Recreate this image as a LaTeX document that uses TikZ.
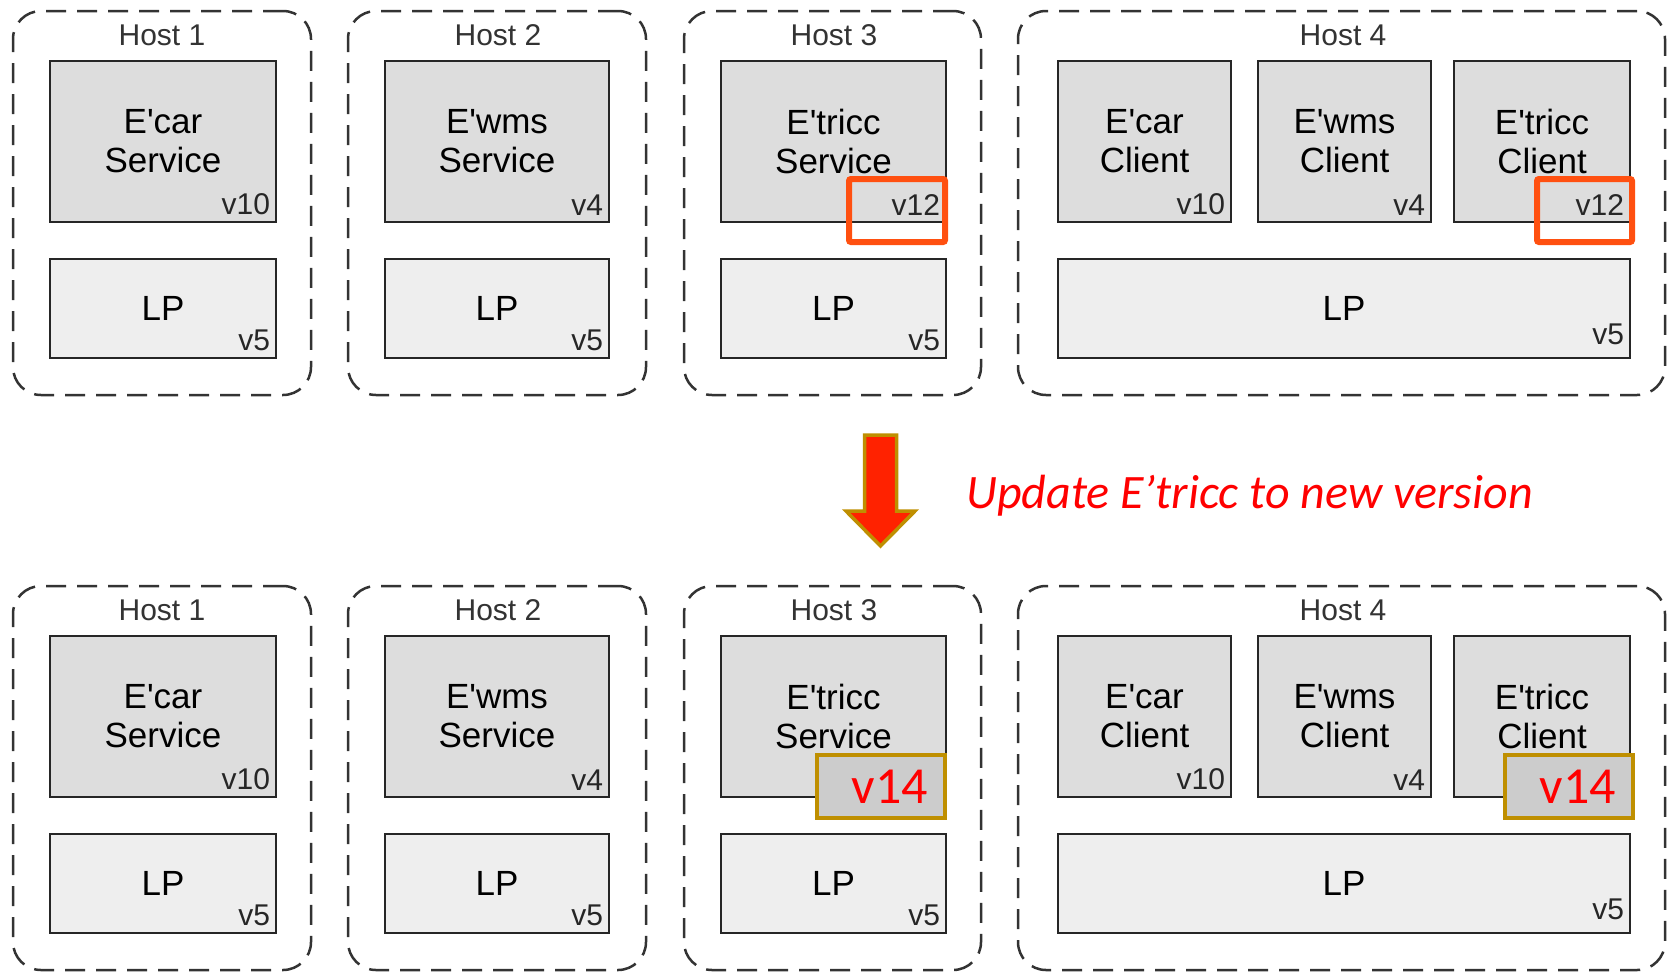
\documentclass[tikz,border=0pt]{standalone}
\usepackage{fontspec}
\setmainfont{Liberation Sans}
\newfontfamily\calibri{Carlito}
\usetikzlibrary{positioning}

\definecolor{hostline}{HTML}{333333}
\definecolor{svcgray}{HTML}{DDDDDD}
\definecolor{lpgray}{HTML}{EEEEEE}
\definecolor{newgray}{HTML}{CCCCCC}
\definecolor{hilite}{HTML}{FF5010}
\definecolor{goldline}{HTML}{BF8F00}
\definecolor{arrowred}{HTML}{FF2200}

\newcommand{\ap}{\textquotesingle}

\begin{document}
\begin{tikzpicture}[x=1pt, y=-1pt,
    hostbox/.style={draw=hostline, line width=2.5pt, dash pattern=on 20pt off 11pt, rounded corners=28pt, minimum height=384pt},
    hosttitle/.style={text=hostline, font=\fontsize{30}{34}\selectfont, inner sep=0pt},
    svcbox/.style={draw=black!85, line width=2.5pt, fill=svcgray, minimum height=161pt, align=center, font=\fontsize{35}{39}\selectfont},
    lpbox/.style={draw=black!85, line width=2.5pt, fill=lpgray, minimum height=99pt, font=\fontsize{35}{39}\selectfont},
    verlbl/.style={text=black!85, font=\fontsize{30}{34}\selectfont, inner sep=0pt},
    hlbox/.style={draw=hilite, line width=6pt, rounded corners=2pt, minimum height=63pt},
    newbox/.style={draw=goldline, line width=3.5pt, fill=newgray, text=red, font=\calibri\fontsize{52}{56}\selectfont, minimum height=63pt, text width=94pt, inner xsep=17pt, align=right},
    updarrow/.style={draw=goldline, fill=arrowred, line width=3.5pt, line join=miter}]
    \useasboundingbox (0,0) rectangle (1667,972);

    % Hosts, before (t) and after (b) the update
    \foreach \r/\dy in {t/0, b/575} {
        % Host 1
        \node[hostbox, minimum width=298pt] (h1-\r) at (162,{203+\dy}) {};
        \node[hosttitle] (t1-\r) at (162,{35+\dy}) {Host 1};
        \node[svcbox, minimum width=226pt] (s1-\r) at (163,{141.5+\dy}) {E\ap car\\Service};
        \node[verlbl, above left=8pt and 7pt of s1-\r.south east] (v1-\r) {v10};
        \node[lpbox, minimum width=226pt] (lp1-\r) at (163,{308.5+\dy}) {LP};
        \node[verlbl, above left=8pt and 7pt of lp1-\r.south east] (w1-\r) {v5};
        % Host 2
        \node[hostbox, minimum width=298pt] (h2-\r) at (497,{203+\dy}) {};
        \node[hosttitle] (t2-\r) at (498,{35+\dy}) {Host 2};
        \node[svcbox, minimum width=224pt] (s2-\r) at (497,{141.5+\dy}) {E\ap wms\\Service};
        \node[verlbl, above left=8pt and 7pt of s2-\r.south east] (v2-\r) {v4};
        \node[lpbox, minimum width=224pt] (lp2-\r) at (497,{308.5+\dy}) {LP};
        \node[verlbl, above left=8pt and 7pt of lp2-\r.south east] (w2-\r) {v5};
        % Host 3
        \node[hostbox, minimum width=297pt] (h3-\r) at (832.5,{203+\dy}) {};
        \node[hosttitle] (t3-\r) at (834,{35+\dy}) {Host 3};
        \node[svcbox, minimum width=225pt] (s3-\r) at (833.5,{141.5+\dy}) {E\ap tricc\\Service};
        \node[lpbox, minimum width=225pt] (lp3-\r) at (833.5,{308.5+\dy}) {LP};
        \node[verlbl, above left=8pt and 7pt of lp3-\r.south east] (w3-\r) {v5};
        % Host 4
        \node[hostbox, minimum width=647pt] (h4-\r) at (1341.5,{203+\dy}) {};
        \node[hosttitle] (t4-\r) at (1343,{35+\dy}) {Host 4};
        \node[svcbox, minimum width=173pt] (c1-\r) at (1144.5,{141.5+\dy}) {E\ap car\\Client};
        \node[verlbl, above left=8pt and 7pt of c1-\r.south east] (u1-\r) {v10};
        \node[svcbox, minimum width=173pt] (c2-\r) at (1344.5,{141.5+\dy}) {E\ap wms\\Client};
        \node[verlbl, above left=8pt and 7pt of c2-\r.south east] (u2-\r) {v4};
        \node[svcbox, minimum width=176pt] (c3-\r) at (1542,{141.5+\dy}) {E\ap tricc\\Client};
        \node[lpbox, minimum width=572pt] (lp4-\r) at (1344,{308.5+\dy}) {LP};
        \node[verlbl, above left=14pt and 7pt of lp4-\r.south east] (w4-\r) {v5};
    }

    % Old E'tricc versions
    \node[verlbl, above left=8pt and 7pt of s3-t.south east] (v3-t) {v12};
    \node[verlbl, above left=8pt and 7pt of c3-t.south east] (u3-t) {v12};
    \node[hlbox, minimum width=96pt] (hl3) at (897,210.5) {};
    \node[hlbox, minimum width=95pt] (hl4) at (1584.5,210.5) {};

    % Update
    \draw[updarrow] (864.5,435) -- (896.5,435) -- (896.5,511) -- (915,511) -- (880.5,546) -- (846,511) -- (864.5,511) -- cycle;
    \node[anchor=base west, text=red, font=\calibri\itshape\fontsize{48}{52}\selectfont, inner sep=0pt] (upd) at (966,508) {Update E’tricc to new version};

    % New E'tricc versions
    \node[newbox] (nv3) at (881,786.5) {v14};
    \node[newbox] (nv4) at (1569,786.5) {v14};
\end{tikzpicture}
\end{document}
